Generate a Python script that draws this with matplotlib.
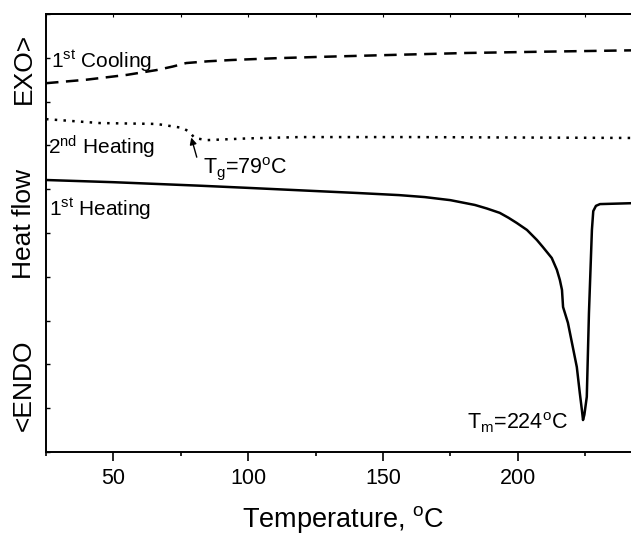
import matplotlib
matplotlib.use('Agg')
import matplotlib.pyplot as plt
from matplotlib.ticker import MultipleLocator, NullFormatter

plt.rcParams['font.family'] = 'Liberation Sans'
plt.rcParams['mathtext.fontset'] = 'custom'
plt.rcParams['mathtext.rm'] = 'Liberation Sans'
plt.rcParams['mathtext.it'] = 'Liberation Sans:italic'
plt.rcParams['mathtext.bf'] = 'Liberation Sans:bold'

# 1st heating (solid)
heat1_T = [25, 50, 82, 100, 126, 140, 156, 165.5, 175, 184.1, 188.5, 193.3, 196.5, 199.6,
           203.4, 207.1, 209.3, 212.6, 214.5, 215.6, 216.4, 216.8, 218.6, 220.4, 221.9,
           223.0, 223.8, 224.2, 224.7, 225.6, 226.4, 227.5, 228.0, 229.0, 230.5, 242]
heat1_Y = [6.21, 6.16, 6.08, 6.03, 5.955, 5.915, 5.865, 5.82, 5.75, 5.64, 5.56, 5.46, 5.35, 5.23,
           5.07, 4.84, 4.68, 4.43, 4.16, 3.93, 3.70, 3.31, 2.95, 2.40, 1.94,
           1.35, 0.95, 0.73, 0.85, 1.26, 3.17, 5.07, 5.50, 5.62, 5.66, 5.68]

# 1st cooling (dashed)
cool_T = [25, 40, 55, 66, 72, 77, 85, 94, 110, 126, 150, 181, 210, 242]
cool_Y = [8.42, 8.50, 8.61, 8.72, 8.80, 8.88, 8.92, 8.95, 8.99, 9.02, 9.06, 9.11, 9.14, 9.17]

# 2nd heating (dotted)
heat2_T = [25, 45, 66, 75.6, 78.2, 80.1, 84.5, 100, 119, 160, 200, 242]
heat2_Y = [7.60, 7.51, 7.49, 7.40, 7.31, 7.17, 7.12, 7.16, 7.19, 7.19, 7.18, 7.17]

fig = plt.figure(figsize=(6.31, 5.37), dpi=100)
ax = fig.add_axes([46 / 631, 85 / 537, 585 / 631, 438 / 537])

ax.plot(heat1_T, heat1_Y, color='k', lw=1.8)
ax.plot(cool_T, cool_Y, color='k', lw=1.8, dashes=(5, 3))
ax.plot(heat2_T, heat2_Y, color='k', lw=1.8, dashes=(1, 2.5))

ax.set_xlim(25, 242)
ax.set_ylim(0, 10)
ax.spines['right'].set_visible(False)
for s in ax.spines.values():
    s.set_linewidth(1.4)

ax.xaxis.set_major_locator(MultipleLocator(50))
ax.xaxis.set_minor_locator(MultipleLocator(25))
ax.tick_params(axis='x', which='major', direction='out', length=6.5, width=1.2,
               labelsize=15.5, pad=5)
ax.tick_params(axis='x', which='minor', direction='out', length=3, width=1.2)
ax.yaxis.set_major_locator(MultipleLocator(1))
ax.yaxis.set_major_formatter(NullFormatter())
ax.tick_params(axis='y', which='major', direction='in', length=3, width=1.0)

top = ax.secondary_xaxis('top')
top.xaxis.set_major_locator(MultipleLocator(25))
top.xaxis.set_major_formatter(NullFormatter())
top.tick_params(direction='in', length=2.5, width=0.8)
top.spines['top'].set_linewidth(1.4)

# curve labels
ax.text(27, 8.77, r'1$^\mathregular{st}$ Cooling', fontsize=15, va='baseline')
ax.text(25.9, 6.80, r'2$^\mathregular{nd}$ Heating', fontsize=15, va='baseline')
ax.text(26.2, 5.39, r'1$^\mathregular{st}$ Heating', fontsize=15, va='baseline')

ax.annotate('', xy=(78.6, 7.24), xytext=(81.2, 6.67),
            arrowprops=dict(arrowstyle='-|>', color='k', lw=1, mutation_scale=10))
ax.text(83.4, 6.35, r'T$_\mathregular{g}$=79$^\mathregular{o}$C', fontsize=15.5, va='baseline')
ax.text(181.1, 0.525, r'T$_\mathregular{m}$=224$^\mathregular{o}$C', fontsize=15.5, va='baseline')

# y-axis label pieces
fig.text(24 / 631, 1 - 68 / 537, 'EXO>', rotation=90, fontsize=19, ha='center', va='center')
fig.text(24 / 631, 1 - 224 / 537, 'Heat flow', rotation=90, fontsize=19, ha='center', va='center')
fig.text(24 / 631, 1 - 385 / 537, '<ENDO', rotation=90, fontsize=19, ha='center', va='center')

fig.text(343 / 631, 1 - 527 / 537, r'Temperature, $^\mathregular{o}$C', fontsize=19.5,
         ha='center', va='baseline')

fig.savefig('out.png', dpi=100)
